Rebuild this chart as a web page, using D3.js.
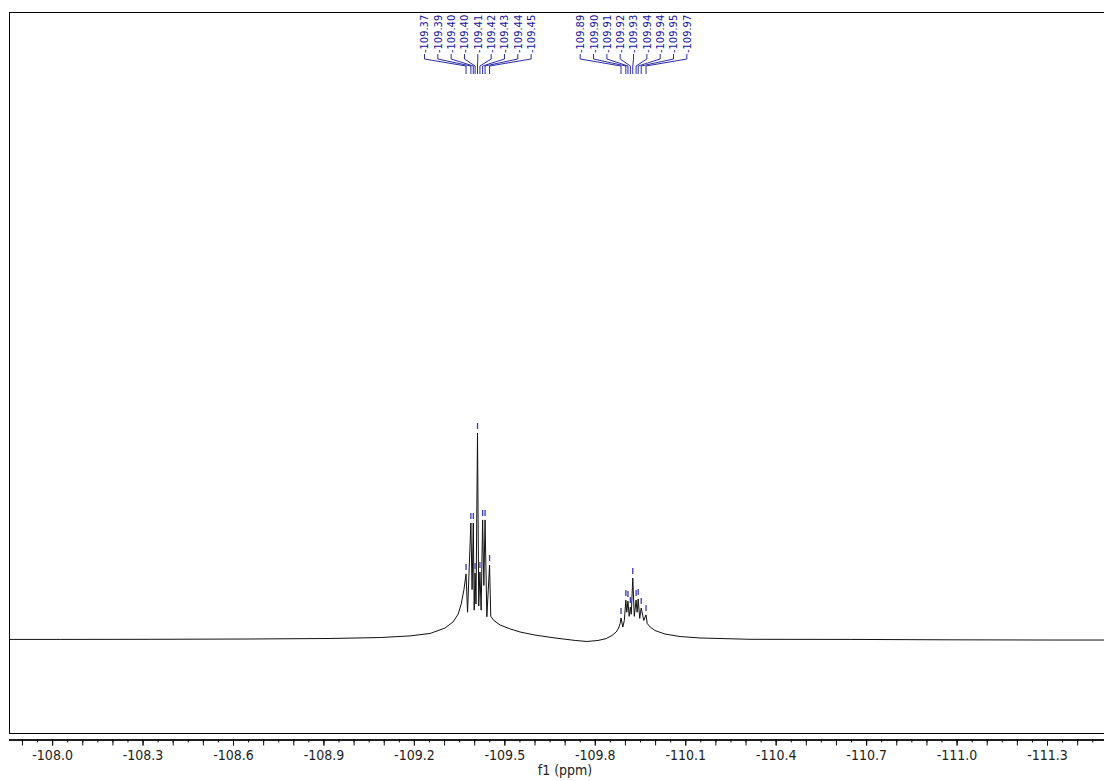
<!DOCTYPE html>
<html>
<head>
<meta charset="utf-8">
<script src="https://cdn.jsdelivr.net/npm/d3@7/dist/d3.min.js"></script>
<style>
  html, body { margin: 0; padding: 0; background: #fff; }
  svg { display: block; }
</style>
</head>
<body>
<svg id="chart" width="1104" height="781"></svg>
<script>
// 19F spectrum trace: chemical shift (ppm) and relative intensity
const tracePpm = [
  -107.857, -108.027, -108.325, -108.657, -108.922, -109.088, -109.187, -109.254,
  -109.303, -109.330, -109.347, -109.357, -109.366, -109.373, -109.378, -109.389,
  -109.393, -109.397, -109.400, -109.403, -109.406, -109.411, -109.415, -109.419,
  -109.423, -109.428, -109.432, -109.436, -109.442, -109.451, -109.455, -109.465,
  -109.486, -109.519, -109.552, -109.602, -109.668, -109.735, -109.774, -109.811,
  -109.838, -109.857, -109.871, -109.879, -109.884, -109.887, -109.893, -109.898,
  -109.903, -109.906, -109.910, -109.914, -109.918, -109.921, -109.926, -109.931,
  -109.937, -109.9405, -109.944, -109.949, -109.954, -109.9625, -109.970, -109.974,
  -109.984, -110.000, -110.033, -110.083, -110.149, -110.315, -110.647, -110.978,
  -111.310, -111.489
];
const traceInt = [
  -0.2, -0.2, -0.15, 0, 0.25, 0.7, 1.5, 2.7,
  5.3, 8.3, 12.1, 17, 24, 31.6, 13, 56.3,
  24, 56.3, 14, 32, 17, 100, 16, 32.5,
  14, 57.8, 26, 57.8, 10.8, 35.9, 11, 9,
  6.8, 4.9, 3.4, 1.9, 0.5, -0.7, -1.2, -0.7,
  0.2, 1.7, 3.4, 5.3, 7.5, 10.2, 5.8, 9,
  18.9, 13, 18.4, 11, 15.5, 12, 29.6, 11,
  18.9, 13, 19.4, 10, 15, 9, 11.7, 7.5,
  5.8, 4.1, 2.4, 1.2, 0.5, -0.15, -0.2, -0.4,
  -0.5, -0.5
];

// Picked peaks (two multiplets)
const peaksA = [-109.373, -109.389, -109.397, -109.403, -109.411, -109.419, -109.428, -109.436, -109.451];
const heightsA = [31.6, 56.3, 56.3, 32, 100, 32.5, 57.8, 57.8, 35.9];
const peaksB = [-109.887, -109.903, -109.910, -109.918, -109.926, -109.937, -109.944, -109.954, -109.970];
const heightsB = [10.2, 18.9, 18.4, 15.5, 29.6, 18.9, 19.4, 15, 11.7];

// Axis labels
const tickLabels = [-108.0, -108.3, -108.6, -108.9, -109.2, -109.5, -109.8, -110.1, -110.4, -110.7, -111.0, -111.3];
const axisTitle = "f1 (ppm)";

const svg = d3.select("#chart");
const W = 1104;
const frame = { left: 9.5, top: 12.5, bottom: 733.5 };
const axisY = 739.5;

const x = d3.scaleLinear().domain([-107.857, -111.489]).range([9, 1104]);
const y = d3.scaleLinear().domain([0, 100]).range([639, 433]);

const fontAxis = "'DejaVu Sans Condensed', 'DejaVu Sans', sans-serif";

// plot frame
svg.append("rect")
  .attr("x", frame.left).attr("y", frame.top)
  .attr("width", W + 10 - frame.left).attr("height", frame.bottom - frame.top)
  .attr("fill", "none").attr("stroke", "#000").attr("stroke-width", 1);

svg.append("clipPath").attr("id", "plotclip")
  .append("rect").attr("x", frame.left).attr("y", frame.top)
  .attr("width", W - frame.left).attr("height", frame.bottom - frame.top);

// spectrum trace
const pts = tracePpm.map((p, i) => [p, traceInt[i]]);
svg.append("path")
  .attr("clip-path", "url(#plotclip)")
  .attr("d", d3.line().x(d => x(d[0])).y(d => y(d[1]))(pts))
  .attr("fill", "none").attr("stroke", "#111").attr("stroke-width", 1)
  .attr("stroke-linejoin", "round");

// x axis: minor ticks, major ticks, labels
const minorVals = d3.range(0, 73).map(i => -107.85 - i * 0.05).filter(v => v <= -107.86 && v >= -111.49);
const majorVals = d3.range(0, 37).map(i => -107.9 - i * 0.1).filter(v => v >= -111.49);

const gMinor = svg.append("g").attr("transform", `translate(0,${axisY})`)
  .call(d3.axisBottom(x).tickValues(minorVals).tickSize(3).tickFormat(""));
const gMajor = svg.append("g").attr("transform", `translate(0,${axisY})`)
  .call(d3.axisBottom(x).tickValues(majorVals).tickSize(6).tickFormat(""));
const gLab = svg.append("g").attr("transform", `translate(0,${axisY})`)
  .call(d3.axisBottom(x).tickValues(tickLabels).tickSize(6).tickPadding(4.5)
    .tickFormat(d3.format(".1f")));

[gMinor, gMajor, gLab].forEach(g => {
  g.select(".domain").attr("stroke", "#000").attr("d", `M9,0.5H${W}`);
  g.selectAll(".tick line").attr("stroke", "#111");
});
gLab.selectAll(".tick text")
  .attr("font-family", fontAxis).attr("font-size", 14).attr("fill", "#222")
  .text(d => d3.format(".1f")(d).replace("−", "-"));

svg.append("text")
  .attr("x", 565).attr("y", 775)
  .attr("text-anchor", "middle")
  .attr("font-family", fontAxis).attr("font-size", 14).attr("fill", "#222")
  .text(axisTitle);

// peak picking annotations
const labelColor = "#14149c";
const markColor = "#3a3ab4";
const spacing = 13.33;

function drawPeakGroup(ppms, heights) {
  const center = (x(ppms[0]) + x(ppms[ppms.length - 1])) / 2;
  const mid = (ppms.length - 1) / 2;
  const g = svg.append("g");
  ppms.forEach((p, i) => {
    const xt = center + (i - mid) * spacing;
    const xp = x(p);
    g.append("text")
      .attr("transform", `translate(${xt},53) rotate(-90)`)
      .attr("dy", "0.36em")
      .attr("text-anchor", "start")
      .attr("font-family", fontAxis).attr("font-size", 11)
      .attr("fill", labelColor)
      .text(p.toFixed(2));
    g.append("path")
      .attr("d", `M${xt},54 L${xt},59 L${xp},66 L${xp},74`)
      .attr("fill", "none").attr("stroke", labelColor).attr("stroke-width", 0.9);
    // mark above each peak apex
    const ya = y(heights[i]);
    g.append("line")
      .attr("x1", xp).attr("x2", xp)
      .attr("y1", ya - 10).attr("y2", ya - 4)
      .attr("stroke", markColor).attr("stroke-width", 1.3);
  });
}
drawPeakGroup(peaksA, heightsA);
drawPeakGroup(peaksB, heightsB);
</script>
</body>
</html>
